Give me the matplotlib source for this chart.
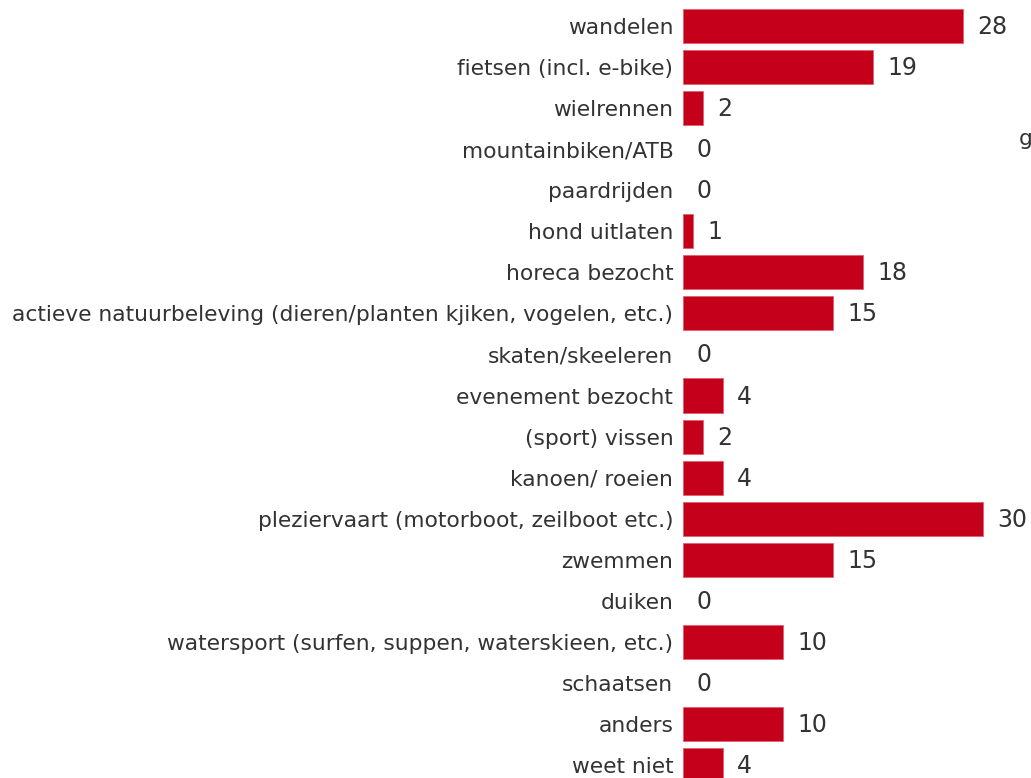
import matplotlib
matplotlib.use("Agg")
import matplotlib.pyplot as plt

categories = [
    "wandelen", "fietsen (incl. e-bike)", "wielrennen", "mountainbiken/ATB",
    "paardrijden", "hond uitlaten", "horeca bezocht",
    "actieve natuurbeleving (dieren/planten kjiken, vogelen, etc.)",
    "skaten/skeeleren", "evenement bezocht", "(sport) vissen", "kanoen/ roeien",
    "pleziervaart (motorboot, zeilboot etc.)", "zwemmen", "duiken",
    "watersport (surfen, suppen, waterskieen, etc.)", "schaatsen", "anders",
    "weet niet",
]
values = [28, 19, 2, 0, 0, 1, 18, 15, 0, 4, 2, 4, 30, 15, 0, 10, 0, 10, 4]

W, H = 1031, 778
fig = plt.figure(figsize=(W / 100, H / 100), dpi=100)
x0 = 683
n = len(categories)
spacing = (765 - 26) / (n - 1)
top = 26 - spacing / 2
bottom = 765 + spacing / 2
ax = fig.add_axes([x0 / W, 1 - bottom / H, (W - x0) / W, (bottom - top) / H])
ax.set_xlim(0, (W - x0) / 10)
ax.set_ylim(n - 0.5, -0.5)

ys = list(range(n))
lws = [0.6 if v > 0 else 0 for v in values]
ax.barh(ys, values, height=0.83, color="#C5001A", edgecolor="#E06070", linewidth=lws)
for y, v in zip(ys, values):
    ax.annotate(str(v), (v, y), xytext=(14, -1), textcoords="offset pixels",
                va="center", ha="left", fontsize=17, color="#333333")
ax.set_yticks(ys)
ax.set_yticklabels(categories, fontsize=15.7, color="#333333")
ax.tick_params(axis="y", length=0, pad=7)
ax.set_xticks([])
for s in ax.spines.values():
    s.set_visible(False)

fig.text(1019 / W, 1 - 139 / H, "g", fontsize=15.7, color="#333333", va="center", ha="left")

fig.savefig("out.png", dpi=100)
